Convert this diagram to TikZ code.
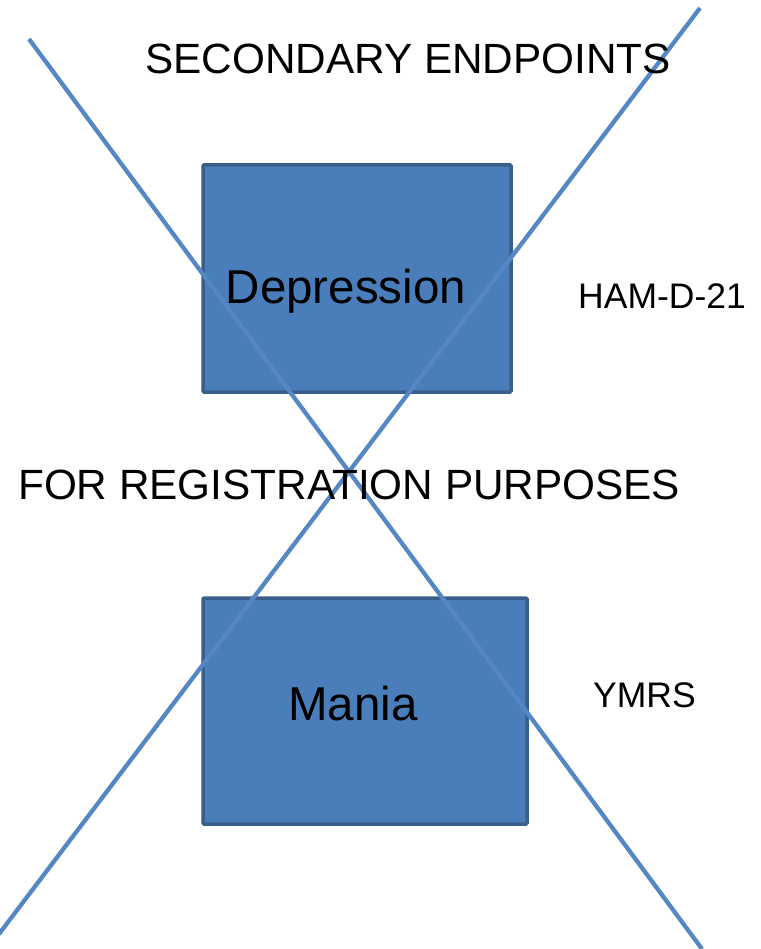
\documentclass[tikz,border=0pt]{standalone}
\usepackage{fontspec}
\setmainfont{Liberation Sans}
\definecolor{crossblue}{HTML}{5487C3}
\definecolor{boxfill}{HTML}{4A7EBB}
\definecolor{boxedge}{HTML}{3A5E8C}
\begin{document}
\begin{tikzpicture}[x=1pt,y=-1pt,
  panel/.style={draw=boxedge,fill=boxfill,line width=3.5pt,rounded corners=1pt},
  crossline/.style={draw=crossblue,line width=4.3pt},
  heading/.style={inner sep=0pt,anchor=base west,font=\fontsize{42.3}{50}\selectfont},
  boxlabel/.style={inner sep=0pt,anchor=base,font=\fontsize{47.5}{56}\selectfont},
  scale label/.style={inner sep=0pt,anchor=base west,font=\fontsize{35.5}{42}\selectfont}]
  \useasboundingbox (0,0) rectangle (760,949);
  % the two boxes
  \draw[panel] (203,165) rectangle (511,392);
  \draw[panel] (203,598) rectangle (527,824);
  % the crossing lines
  \coordinate (tl) at (29,39);
  \coordinate (br) at (702,949);
  \coordinate (tr) at (700,8);
  \coordinate (bl) at (-1,934);
  \draw[crossline] (tl) -- (br);
  \draw[crossline] (tr) -- (bl);
  % texts
  \node[boxlabel] (deptext) at (346,303) {Depression};
  \node[boxlabel] (mantext) at (353,720) {Mania};
  \node[heading] (sec) at (145,74) {SECONDARY ENDPOINTS};
  \node[heading] (reg) at (18,499) {FOR REGISTRATION PURPOSES};
  \node[scale label] (ham) at (578,308) {HAM-D-21};
  \node[scale label] (ymrs) at (593,707) {YMRS};
\end{tikzpicture}
\end{document}
